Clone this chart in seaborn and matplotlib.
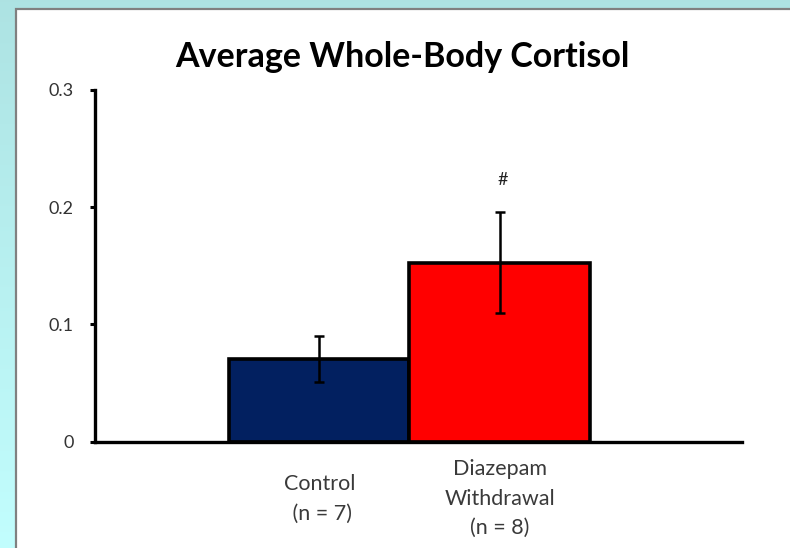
import numpy as np
import pandas as pd
import matplotlib
matplotlib.use("Agg")
import matplotlib.pyplot as plt
from matplotlib.patches import Rectangle
import seaborn as sns

# ---- data ----
groups = ["Control\n (n = 7)", "Diazepam\nWithdrawal\n(n = 8)"]
means = [0.0706, 0.1528]
sem = [0.0196, 0.0432]
bar_colors = ["#022060", "#FF0000"]
yticks = [0, 0.1, 0.2, 0.3]
ytick_labels = ["0", "0.1", "0.2", "0.3"]
title = "Average Whole-Body Cortisol"
marker_text = "#"
marker_y = 0.2235

sns.set_style("white")
plt.rcParams["font.family"] = ["Lato", "DejaVu Sans"]

W, H = 790, 548
fig = plt.figure(figsize=(W / 100, H / 100), dpi=100)

# background gradient (cyan)
bg = fig.add_axes([0, 0, 1, 1], zorder=-10)
top = np.array([0.68, 0.89, 0.89])
bot = np.array([0.76, 0.995, 0.995])
t = np.linspace(0, 1, 256)[:, None]
grad = (top[None, :] * (1 - t) + bot[None, :] * t)[:, None, :]
bg.imshow(grad, aspect="auto", extent=[0, 1, 0, 1], origin="upper")
bg.axis("off")

# white panel
panel = Rectangle((16 / W, -0.1), 1.2, (1 - 9 / H) + 0.1, transform=fig.transFigure,
                  facecolor="white", edgecolor="#808080", linewidth=1.6, zorder=-5)
fig.patches.append(panel)

ax = fig.add_axes([95 / W, 1 - 441.7 / H, (742 - 95) / W, (441.7 - 90) / H], zorder=1)
ax.set_facecolor("none")

df = pd.DataFrame({"group": groups, "mean": means, "sem": sem})
sns.barplot(data=df, x="group", y="mean", hue="group", palette=bar_colors,
            order=groups, hue_order=groups, width=1.0, errorbar=None,
            saturation=1, edgecolor="black", linewidth=2.6, legend=False,
            ax=ax, zorder=2)
ax.errorbar(x=np.arange(len(groups)), y=df["mean"], yerr=df["sem"], fmt="none",
            ecolor="black", elinewidth=1.8, capsize=3.5, capthick=1.8, zorder=3)

ax.text(1.02, marker_y, marker_text, ha="center", va="center", fontsize=13,
        color="#222222")

ax.set_xlim(-1.247, 2.347)
ax.set_ylim(0, 0.3)
ax.set_yticks(yticks)
ax.set_yticklabels(ytick_labels)
ax.set_xlabel("")
ax.set_ylabel("")

for s in ["top", "right"]:
    ax.spines[s].set_visible(False)
for s in ["left", "bottom"]:
    ax.spines[s].set_linewidth(2.4)
    ax.spines[s].set_color("black")

ax.tick_params(axis="y", which="both", left=True, length=3.5, width=2.2,
               color="black", labelsize=13, labelcolor="#333333", pad=12)
ax.tick_params(axis="x", which="both", bottom=False, labelsize=15.5,
               labelcolor="#3a3a3a", pad=37.5)
for lbl in ax.get_xticklabels():
    lbl.set_va("center")
    lbl.set_linespacing(1.6)

fig.text(402.5 / W, 1 - 57 / H, title, ha="center", va="center",
         fontsize=24.5, fontweight="bold", color="black")

fig.savefig("out.png", dpi=100)
